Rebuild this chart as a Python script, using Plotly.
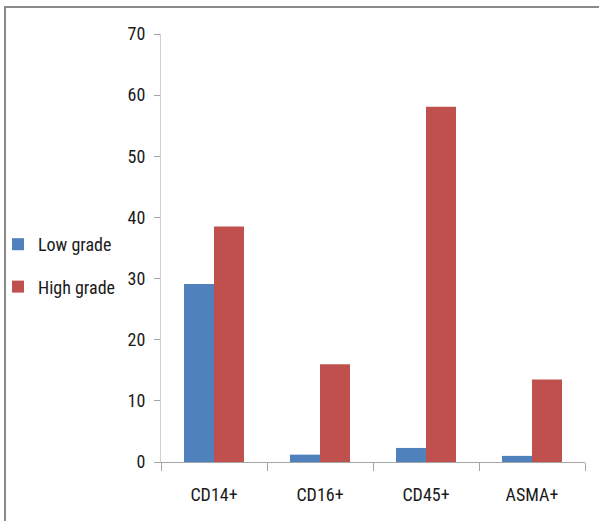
import plotly.graph_objects as go

categories = ["CD14+", "CD16+", "CD45+", "ASMA+"]
low_grade = [29.1, 1.2, 2.3, 1.0]
high_grade = [38.5, 16.0, 58.1, 13.5]
y_ticks = [0, 10, 20, 30, 40, 50, 60, 70]

FONT = "Liberation Sans Narrow, Arial Narrow, Roboto Condensed, Liberation Sans, sans-serif"

W, H = 599, 521
ML, MR, MT, MB = 161, 14, 34, 59
PW, PH = W - ML - MR, H - MT - MB

def px_x(x):
    return (x - ML) / PW

def px_y(y):
    return (H - MB - y) / PH

fig = go.Figure()
fig.add_trace(go.Bar(name="Low grade", x=categories, y=low_grade,
                     marker=dict(color="#4F81BD", line=dict(width=0)), legendgroup="a"))
fig.add_trace(go.Bar(name="High grade", x=categories, y=high_grade,
                     marker=dict(color="#C0504D", line=dict(width=0)), legendgroup="b"))

fig.update_layout(
    width=W, height=H,
    margin=dict(l=ML, r=MR, t=MT, b=MB, autoexpand=False),
    paper_bgcolor="white", plot_bgcolor="white",
    font=dict(family=FONT, size=18, color="#1a1a1a"),
    barmode="group", bargap=0.434, bargroupgap=0,
    showlegend=True,
    legend=dict(x=px_x(-2), xanchor="left", y=px_y(226), yanchor="top",
                bgcolor="rgba(0,0,0,0)", font=dict(family=FONT, size=18, color="#1a1a1a"),
                tracegroupgap=16, traceorder="grouped"),
    xaxis=dict(showline=True, linecolor="#a6a6a6", linewidth=1,
               ticks="outside", tickson="boundaries", ticklen=8, tickcolor="#a6a6a6",
               showgrid=False, ticklabelstandoff=16,
               tickfont=dict(family=FONT, size=18, color="#1a1a1a")),
    yaxis=dict(range=[0, 70], tickvals=y_ticks, showline=True, linecolor="#d0d0d0",
               linewidth=1, ticks="outside", ticklen=6, tickcolor="#a6a6a6",
               showgrid=False, zeroline=False, ticklabelstandoff=5,
               tickfont=dict(family=FONT, size=18, color="#1a1a1a")),
    shapes=[
        dict(type="line", xref="paper", yref="paper",
             x0=px_x(5), x1=px_x(5), y0=px_y(H + 2), y1=px_y(7),
             line=dict(color="#8a8a8a", width=2)),
        dict(type="line", xref="paper", yref="paper",
             x0=px_x(4), x1=px_x(W + 2), y0=px_y(7), y1=px_y(7),
             line=dict(color="#8a8a8a", width=2)),
    ],
)

fig.write_html("out.html")
